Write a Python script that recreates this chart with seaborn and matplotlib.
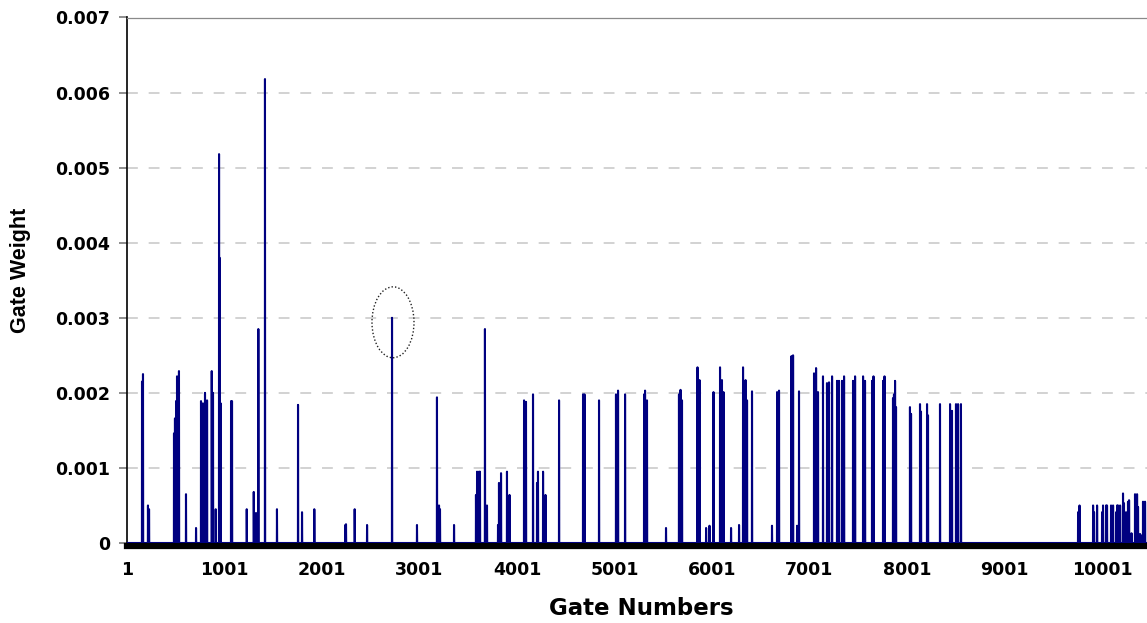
import numpy as np
import pandas as pd
import matplotlib
matplotlib.use("Agg")
import matplotlib.pyplot as plt
from matplotlib.patches import Ellipse
import seaborn as sns

# Gate index range and non-zero gate weights (all other gates carry weight 0)
n_gates = 10462
spike_gates = [
    155, 165, 216, 227, 483, 493, 504, 514, 534, 606, 709, 760, 780, 791, 801, 822,
    870, 883, 911, 945, 950, 962, 1068, 1078, 1229, 1301, 1324, 1348, 1416, 1539,
    1755, 1796, 1922, 2240, 2247, 2336, 2463, 2719, 2975, 3180, 3201, 3211, 3355,
    3580, 3591, 3611, 3621, 3672, 3693, 3806, 3816, 3837, 3898, 3924, 4073, 4093,
    4165, 4206, 4216, 4268, 4293, 4432, 4678, 4693, 4842, 5016, 5037, 5109, 5304,
    5314, 5334, 5529, 5662, 5678, 5693, 5852, 5873, 5940, 5975, 6016, 6083, 6103,
    6119, 6196, 6278, 6319, 6345, 6360, 6411, 6616, 6668, 6688, 6816, 6832, 6873,
    6893, 7047, 7068, 7088, 7139, 7180, 7201, 7232, 7283, 7303, 7334, 7355, 7447,
    7468, 7550, 7570, 7642, 7657, 7755, 7770, 7857, 7867, 7878, 7888, 8031, 8042,
    8134, 8144, 8206, 8216, 8339, 8442, 8462, 8503, 8524, 8554, 9755, 9770, 9909,
    9919, 9950, 10001, 10011, 10042, 10052, 10093, 10114, 10145, 10155, 10165,
    10186, 10216, 10226, 10247, 10267, 10278, 10303, 10339, 10360, 10370, 10391,
    10411, 10421, 10442,
]
spike_weights = [
    0.00215, 0.00225, 0.00050, 0.00045, 0.00146, 0.00166, 0.00189, 0.00222, 0.00229,
    0.00065, 0.00020, 0.00189, 0.00186, 0.00180, 0.00200, 0.00190, 0.00229, 0.00200,
    0.00045, 0.00518, 0.00380, 0.00186, 0.00189, 0.00189, 0.00045, 0.00068, 0.00040,
    0.00285, 0.00618, 0.00045, 0.00184, 0.00041, 0.00045, 0.00024, 0.00025, 0.00045,
    0.00024, 0.00300, 0.00024, 0.00194, 0.00050, 0.00045, 0.00024, 0.00064, 0.00095,
    0.00095, 0.00095, 0.00285, 0.00050, 0.00024, 0.00080, 0.00093, 0.00095, 0.00064,
    0.00190, 0.00188, 0.00198, 0.00080, 0.00095, 0.00095, 0.00064, 0.00190, 0.00198,
    0.00198, 0.00190, 0.00198, 0.00203, 0.00198, 0.00198, 0.00203, 0.00190, 0.00020,
    0.00198, 0.00204, 0.00190, 0.00234, 0.00217, 0.00020, 0.00023, 0.00201, 0.00234,
    0.00217, 0.00201, 0.00020, 0.00024, 0.00234, 0.00217, 0.00190, 0.00202, 0.00023,
    0.00201, 0.00203, 0.00249, 0.00250, 0.00023, 0.00202, 0.00226, 0.00233, 0.00201,
    0.00222, 0.00213, 0.00214, 0.00222, 0.00216, 0.00216, 0.00216, 0.00222, 0.00216,
    0.00222, 0.00222, 0.00216, 0.00216, 0.00222, 0.00216, 0.00222, 0.00193, 0.00198,
    0.00216, 0.00181, 0.00181, 0.00172, 0.00185, 0.00175, 0.00185, 0.00170, 0.00185,
    0.00185, 0.00176, 0.00185, 0.00185, 0.00185, 0.00041, 0.00050, 0.00050, 0.00041,
    0.00050, 0.00041, 0.00050, 0.00050, 0.00050, 0.00050, 0.00050, 0.00041, 0.00050,
    0.00050, 0.00050, 0.00066, 0.00053, 0.00041, 0.00055, 0.00057, 0.00013, 0.00065,
    0.00065, 0.00048, 0.00012, 0.00010, 0.00055, 0.00055,
]
x_tick_values = [1, 1001, 2001, 3001, 4001, 5001, 6001, 7001, 8001, 9001, 10001]
y_tick_values = [0, 0.001, 0.002, 0.003, 0.004, 0.005, 0.006, 0.007]
y_tick_labels = ["0", "0.001", "0.002", "0.003", "0.004", "0.005", "0.006", "0.007"]
highlight_gate = 2729
highlight_weight = 0.00294

gates = np.arange(1, n_gates + 1)
weights = np.zeros(n_gates)
weights[np.array(spike_gates) - 1] = spike_weights
df = pd.DataFrame({"Gate Numbers": gates, "Gate Weight": weights})

sns.set_style("white")
plt.rcParams["font.family"] = ["DejaVu Sans"]
plt.rcParams["font.weight"] = "bold"
plt.rcParams["text.color"] = "black"
plt.rcParams["axes.labelcolor"] = "black"
plt.rcParams["xtick.color"] = "black"
plt.rcParams["ytick.color"] = "black"

fig = plt.figure(figsize=(11.47, 6.23), dpi=100)
ax = fig.add_axes([127 / 1147, 1 - 543 / 623, 1 - 127 / 1147, (543 - 17.5) / 623])

sns.lineplot(data=df, x="Gate Numbers", y="Gate Weight", ax=ax,
             color="#000080", linewidth=1.5, zorder=3)

ax.set_xlim(1, n_gates)
ax.set_ylim(0, 0.007)
ax.set_yticks(y_tick_values)
ax.set_yticklabels(y_tick_labels)
ax.set_xticks(x_tick_values)
ax.set_xticklabels([str(v) for v in x_tick_values])

for lvl in y_tick_values[1:-1]:
    ax.axhline(lvl, color="#cfcfcf", linewidth=1.3, linestyle=(0, (6, 6)), zorder=1)

# Spines
ax.spines["right"].set_visible(False)
ax.spines["top"].set_color("#8a8a8a")
ax.spines["top"].set_linewidth(0.9)
ax.spines["left"].set_color("#000000")
ax.spines["left"].set_linewidth(1.2)
ax.spines["bottom"].set_color("#000000")
ax.spines["bottom"].set_linewidth(4.5)
ax.spines["bottom"].set_position(("outward", 2.3))
ax.spines["bottom"].set_zorder(2)

ax.tick_params(axis="y", direction="out", length=6, width=1.2, color="#7a7a7a",
               labelcolor="black", pad=6, labelsize=12.5, left=True)
ax.tick_params(axis="x", length=0, pad=11, labelsize=12.5, labelcolor="black",
               bottom=True)
for lab in ax.get_xticklabels() + ax.get_yticklabels():
    lab.set_fontweight("bold")

ax.set_xlabel("Gate Numbers", fontsize=16.5, fontweight="bold", color="black")
ax.xaxis.set_label_coords((641 - 127) / 1020, (543 - 597) / 525.5)
ax.set_ylabel("Gate Weight", fontsize=15.5, fontweight="bold", color="black",
              family=["Liberation Sans", "DejaVu Sans"])
ax.yaxis.set_label_coords((31 - 127) / 1020, (543 - 270) / 525.5)

# Dotted ellipse marking one gate
ax.add_patch(Ellipse((highlight_gate, highlight_weight), width=431, height=0.000945,
                     fill=False, edgecolor="#222222", linewidth=1.0,
                     linestyle=(0, (1, 1.5)), zorder=4))

fig.savefig("out.png", dpi=100)
